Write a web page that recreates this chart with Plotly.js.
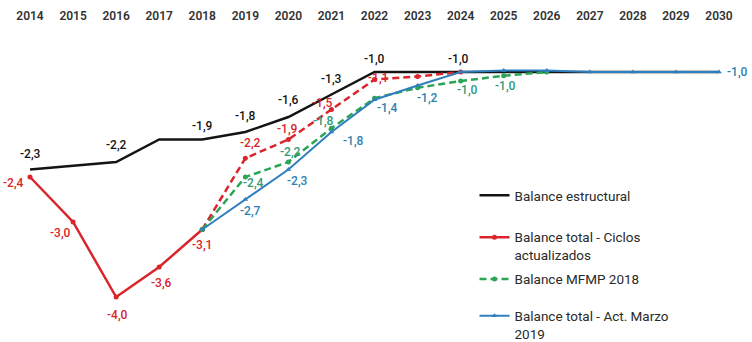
<!DOCTYPE html>
<html><head><meta charset="utf-8">
<script src="https://cdn.plot.ly/plotly-3.0.1.min.js"></script>
<style>html,body{margin:0;padding:0;background:#fff;}#chart{width:752px;height:342px;}</style>
</head><body><div id="chart"></div>
<script>
// ---- DATA ----
const years = [2014,2015,2016,2017,2018,2019,2020,2021,2022,2023,2024,2025,2026,2027,2028,2029,2030];
const yearLabels = years.map(String);

const estructuralYears = years;
const estructural = [-2.3,-2.25,-2.2,-1.9,-1.9,-1.8,-1.6,-1.3,-1.0,-1.0,-1.0,-1.0,-1.0,-1.0,-1.0,-1.0,-1.0];
const estructuralLabels = ['-2,3','','-2,2','','-1,9','-1,8','-1,6','-1,3','-1,0','','-1,0','','','','','',''];

const ciclosHistYears = [2014,2015,2016,2017,2018];
const ciclosHist = [-2.4,-3.0,-4.0,-3.6,-3.1];
const ciclosHistLabels = ['-2,4','-3,0','-4,0','-3,6','-3,1'];

const ciclosProjYears = [2018,2019,2020,2021,2022,2023,2024];
const ciclosProj = [-3.1,-2.15,-1.9,-1.5,-1.1,-1.06,-1.0];
const ciclosProjLabels = ['','-2,2','-1,9','-1,5','-1,1','',''];

const mfmpYears = [2018,2019,2020,2021,2022,2023,2024,2025,2026];
const mfmp = [-3.1,-2.4,-2.2,-1.75,-1.35,-1.21,-1.12,-1.05,-1.0];
const mfmpLabels = ['','-2,4','-2,2','-1,8','','','-1,0','-1,0',''];

const marzoYears = [2018,2019,2020,2021,2022,2023,2024,2025,2026,2027,2028,2029,2030];
const marzo = [-3.1,-2.7,-2.3,-1.8,-1.37,-1.18,-1.0,-0.98,-0.98,-1.0,-1.0,-1.0,-1.0];
const marzoLabels = ['','-2,7','-2,3','-1,8','-1,4','-1,2','','','','','','','-1,0'];

const legendNames = ['Balance estructural','Balance total - Ciclos<br>actualizados','Balance MFMP 2018','Balance total - Act. Marzo<br>2019'];

// ---- STYLE ----
const C = {black:'#141414', red:'#d9252b', green:'#2aa553', blue:'#2f7fbf', greenLbl:'#2f9a78', blueLbl:'#2d7fb0'};
const FONT = 'Roboto, "Open Sans", sans-serif';

// label pixel offsets [dx, dy] (screen px, dy down)
const offs = {
  est: {0:[0,-16],2:[0,-17],4:[0,-14],5:[0,-16],6:[0,-17],7:[0,-16],8:[0,-13],10:[-2,-13]},
  hist:{0:[-17,6],1:[-13,11],2:[1,18],3:[2,16],4:[0,15]},
  proj:{1:[5,-15],2:[-1,-11],3:[-9,-7],4:[3,-2]},
  mfmp:{1:[8,6],2:[2,-10],3:[-8,-7],6:[7,9],7:[2,10]},
  marzo:{1:[5,11],2:[9,11],3:[22,9],4:[13,8],5:[10,12],12:[18,0]}
};

const traces = [
  {x:estructuralYears, y:estructural, mode:'lines', name:legendNames[0], legend:'legend',
   line:{color:C.black,width:2.5}},
  {x:ciclosHistYears, y:ciclosHist, mode:'lines+markers', name:legendNames[1], legend:'legend2',
   line:{color:C.red,width:2.5}, marker:{color:C.red,size:5}},
  {x:ciclosProjYears, y:ciclosProj, mode:'lines+markers', name:'proj', showlegend:false,
   line:{color:C.red,width:2.5,dash:'7px,4px'}, marker:{color:C.red,size:5}},
  {x:mfmpYears, y:mfmp, mode:'lines+markers', name:legendNames[2], legend:'legend3',
   line:{color:C.green,width:2.5,dash:'7px,4px'}, marker:{color:C.green,size:5}},
  {x:marzoYears, y:marzo, mode:'lines+markers', name:legendNames[3], legend:'legend4',
   line:{color:C.blue,width:2}, marker:{color:C.blue,size:5,symbol:'triangle-up'}}
];

const annotations = [];
function addLabels(xs, ys, labels, off, color){
  labels.forEach((t,i)=>{
    if(!t) return;
    const o = off[i] || [0,0];
    annotations.push({x:xs[i], y:ys[i], xref:'x', yref:'y', text:t, showarrow:false,
      xshift:o[0], yshift:-o[1], font:{family:FONT,size:12,color:color,weight:500}});
  });
}
addLabels(estructuralYears, estructural, estructuralLabels, offs.est, C.black);
addLabels(ciclosHistYears, ciclosHist, ciclosHistLabels, offs.hist, C.red);
addLabels(ciclosProjYears, ciclosProj, ciclosProjLabels, offs.proj, C.red);
addLabels(mfmpYears, mfmp, mfmpLabels, offs.mfmp, C.greenLbl);
addLabels(marzoYears, marzo, marzoLabels, offs.marzo, C.blueLbl);

const legBase = {xanchor:'left', yanchor:'top', x:0.631, bgcolor:'rgba(0,0,0,0)', borderwidth:0,
  valign:'top', font:{family:FONT,size:13.5,color:'#2a2a2a'}, itemwidth:30};

const layout = {
  width:752, height:342,
  margin:{l:0,r:0,t:30,b:0,autoexpand:false},
  paper_bgcolor:'#ffffff', plot_bgcolor:'#ffffff',
  showlegend:true,
  xaxis:{range:[2013.303,2030.766], side:'top', tickvals:years, ticktext:yearLabels,
    showgrid:false, zeroline:false, showline:false, ticks:'', ticklabelstandoff:7, automargin:false,
    tickfont:{family:FONT,size:12,color:'#333333',weight:600}, fixedrange:true},
  yaxis:{range:[-4.6,-0.44], visible:false, showgrid:false, zeroline:false, fixedrange:true},
  legend:Object.assign({}, legBase, {y:0.519}),
  legend2:Object.assign({}, legBase, {y:0.385}),
  legend3:Object.assign({}, legBase, {y:0.251}),
  legend4:Object.assign({}, legBase, {y:0.133}),
  annotations:annotations
};

Plotly.newPlot('chart', traces, layout, {displayModeBar:false, staticPlot:true});
</script>
</body></html>
